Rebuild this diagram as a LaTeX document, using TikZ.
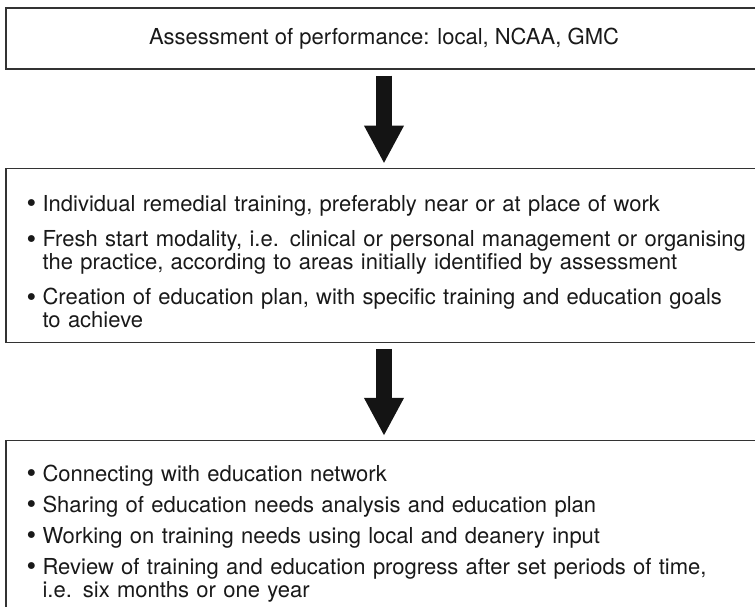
\documentclass[tikz,border=0pt]{standalone}
\usepackage{fontspec}
\setmainfont{TeX Gyre Heros}
\usetikzlibrary{arrows.meta}
\usetikzlibrary{positioning}
\tikzset{
    flow_box/.style = {rectangle, draw=black!80, line width=1.3pt, minimum width=756pt, inner sep=0pt},
    flow_text/.style = {align=left, anchor=north west, inner sep=0pt, text width=760pt, text=black!90, font=\fontsize{22}{22.5}\selectfont},
    big_arrow/.style = {draw=black!92, line width=16pt, -{Triangle[width=37pt, length=38pt]}, shorten <=6pt, shorten >=4pt}
}
\newcommand{\listpoint}[1]{\par\hangindent=16pt\hangafter=1\noindent\makebox[16pt][l]{\raisebox{-1.3pt}{\scalebox{1.25}{\textbullet}}}#1\par}

\begin{document}
\begin{tikzpicture}
            [x=1pt, y=1pt]

            \useasboundingbox (0,0) rectangle (755,-606);

            \node [flow_box, minimum height=61pt, text=black!90, font=\fontsize{22}{24}\selectfont] (assess) at (384,-38.5) {Assessment of performance: local, NCAA, GMC};
            \node [flow_box, minimum height=174pt, below=98pt of assess] (remedial) {};
            \node [flow_box, minimum height=200pt, below=97pt of remedial] (network) {};

            \node [flow_text, below right=21pt and 21pt of remedial.north west] (remedial_list) {
                \listpoint{Individual remedial training, preferably near or at place of work}
                \vspace{13pt}
                \listpoint{Fresh start modality, i.e. clinical or personal management or organising\newline the practice, according to areas initially identified by assessment}
                \vspace{13pt}
                \listpoint{Creation of education plan, with specific training and education goals\newline to achieve}
            };
            \node [flow_text, below right=19pt and 21pt of network.north west] (network_list) {
                \listpoint{Connecting with education network}
                \vspace{8.5pt}
                \listpoint{Sharing of education needs analysis and education plan}
                \vspace{8.5pt}
                \listpoint{Working on training needs using local and deanery input}
                \vspace{8.5pt}
                \listpoint{Review of training and education progress after set periods of time,\newline i.e. six months or one year}
            };

            \draw [big_arrow] (assess) -- (remedial);
            \draw [big_arrow] (remedial) -- (network);
\end{tikzpicture}
\end{document}
